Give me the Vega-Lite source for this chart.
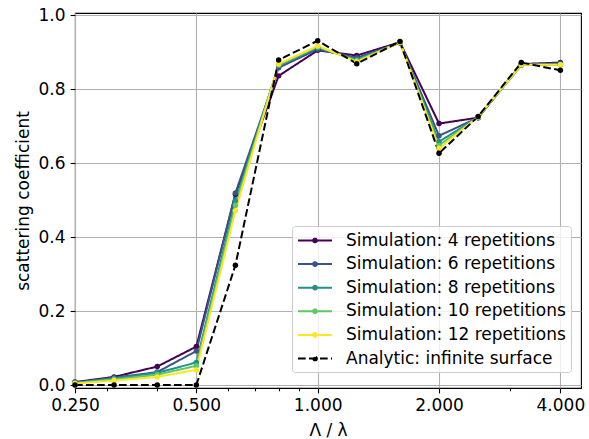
{
  "$schema": "https://vega.github.io/schema/vega-lite/v6.json",
  "width": 506,
  "height": 375,
  "autosize": {"type": "none"},
  "padding": {"left": 75, "top": 13, "right": 8, "bottom": 51},
  "background": "white",
  "data": {
    "values": [
      {"x": 0.25, "y": 0.008, "s": "Simulation: 4 repetitions"},
      {"x": 0.3125, "y": 0.022, "s": "Simulation: 4 repetitions"},
      {"x": 0.4, "y": 0.050, "s": "Simulation: 4 repetitions"},
      {"x": 0.5, "y": 0.104, "s": "Simulation: 4 repetitions"},
      {"x": 0.625, "y": 0.516, "s": "Simulation: 4 repetitions"},
      {"x": 0.8, "y": 0.836, "s": "Simulation: 4 repetitions"},
      {"x": 1.0, "y": 0.905, "s": "Simulation: 4 repetitions"},
      {"x": 1.25, "y": 0.891, "s": "Simulation: 4 repetitions"},
      {"x": 1.6, "y": 0.927, "s": "Simulation: 4 repetitions"},
      {"x": 2.0, "y": 0.707, "s": "Simulation: 4 repetitions"},
      {"x": 2.5, "y": 0.723, "s": "Simulation: 4 repetitions"},
      {"x": 3.2, "y": 0.868, "s": "Simulation: 4 repetitions"},
      {"x": 4.0, "y": 0.872, "s": "Simulation: 4 repetitions"},

      {"x": 0.25, "y": 0.006, "s": "Simulation: 6 repetitions"},
      {"x": 0.3125, "y": 0.020, "s": "Simulation: 6 repetitions"},
      {"x": 0.4, "y": 0.035, "s": "Simulation: 6 repetitions"},
      {"x": 0.5, "y": 0.092, "s": "Simulation: 6 repetitions"},
      {"x": 0.625, "y": 0.519, "s": "Simulation: 6 repetitions"},
      {"x": 0.8, "y": 0.858, "s": "Simulation: 6 repetitions"},
      {"x": 1.0, "y": 0.908, "s": "Simulation: 6 repetitions"},
      {"x": 1.25, "y": 0.885, "s": "Simulation: 6 repetitions"},
      {"x": 1.6, "y": 0.925, "s": "Simulation: 6 repetitions"},
      {"x": 2.0, "y": 0.674, "s": "Simulation: 6 repetitions"},
      {"x": 2.5, "y": 0.723, "s": "Simulation: 6 repetitions"},
      {"x": 3.2, "y": 0.866, "s": "Simulation: 6 repetitions"},
      {"x": 4.0, "y": 0.870, "s": "Simulation: 6 repetitions"},

      {"x": 0.25, "y": 0.006, "s": "Simulation: 8 repetitions"},
      {"x": 0.3125, "y": 0.018, "s": "Simulation: 8 repetitions"},
      {"x": 0.4, "y": 0.033, "s": "Simulation: 8 repetitions"},
      {"x": 0.5, "y": 0.061, "s": "Simulation: 8 repetitions"},
      {"x": 0.625, "y": 0.498, "s": "Simulation: 8 repetitions"},
      {"x": 0.8, "y": 0.864, "s": "Simulation: 8 repetitions"},
      {"x": 1.0, "y": 0.912, "s": "Simulation: 8 repetitions"},
      {"x": 1.25, "y": 0.880, "s": "Simulation: 8 repetitions"},
      {"x": 1.6, "y": 0.926, "s": "Simulation: 8 repetitions"},
      {"x": 2.0, "y": 0.658, "s": "Simulation: 8 repetitions"},
      {"x": 2.5, "y": 0.724, "s": "Simulation: 8 repetitions"},
      {"x": 3.2, "y": 0.865, "s": "Simulation: 8 repetitions"},
      {"x": 4.0, "y": 0.866, "s": "Simulation: 8 repetitions"},

      {"x": 0.25, "y": 0.005, "s": "Simulation: 10 repetitions"},
      {"x": 0.3125, "y": 0.015, "s": "Simulation: 10 repetitions"},
      {"x": 0.4, "y": 0.028, "s": "Simulation: 10 repetitions"},
      {"x": 0.5, "y": 0.052, "s": "Simulation: 10 repetitions"},
      {"x": 0.625, "y": 0.486, "s": "Simulation: 10 repetitions"},
      {"x": 0.8, "y": 0.866, "s": "Simulation: 10 repetitions"},
      {"x": 1.0, "y": 0.915, "s": "Simulation: 10 repetitions"},
      {"x": 1.25, "y": 0.877, "s": "Simulation: 10 repetitions"},
      {"x": 1.6, "y": 0.926, "s": "Simulation: 10 repetitions"},
      {"x": 2.0, "y": 0.648, "s": "Simulation: 10 repetitions"},
      {"x": 2.5, "y": 0.725, "s": "Simulation: 10 repetitions"},
      {"x": 3.2, "y": 0.866, "s": "Simulation: 10 repetitions"},
      {"x": 4.0, "y": 0.866, "s": "Simulation: 10 repetitions"},

      {"x": 0.25, "y": 0.004, "s": "Simulation: 12 repetitions"},
      {"x": 0.3125, "y": 0.012, "s": "Simulation: 12 repetitions"},
      {"x": 0.4, "y": 0.022, "s": "Simulation: 12 repetitions"},
      {"x": 0.5, "y": 0.041, "s": "Simulation: 12 repetitions"},
      {"x": 0.625, "y": 0.471, "s": "Simulation: 12 repetitions"},
      {"x": 0.8, "y": 0.868, "s": "Simulation: 12 repetitions"},
      {"x": 1.0, "y": 0.917, "s": "Simulation: 12 repetitions"},
      {"x": 1.25, "y": 0.874, "s": "Simulation: 12 repetitions"},
      {"x": 1.6, "y": 0.927, "s": "Simulation: 12 repetitions"},
      {"x": 2.0, "y": 0.640, "s": "Simulation: 12 repetitions"},
      {"x": 2.5, "y": 0.725, "s": "Simulation: 12 repetitions"},
      {"x": 3.2, "y": 0.866, "s": "Simulation: 12 repetitions"},
      {"x": 4.0, "y": 0.866, "s": "Simulation: 12 repetitions"},

      {"x": 0.25, "y": 0.0, "s": "Analytic: infinite surface"},
      {"x": 0.3125, "y": 0.0, "s": "Analytic: infinite surface"},
      {"x": 0.4, "y": 0.0, "s": "Analytic: infinite surface"},
      {"x": 0.5, "y": 0.0, "s": "Analytic: infinite surface"},
      {"x": 0.625, "y": 0.324, "s": "Analytic: infinite surface"},
      {"x": 0.8, "y": 0.879, "s": "Analytic: infinite surface"},
      {"x": 1.0, "y": 0.931, "s": "Analytic: infinite surface"},
      {"x": 1.25, "y": 0.869, "s": "Analytic: infinite surface"},
      {"x": 1.6, "y": 0.929, "s": "Analytic: infinite surface"},
      {"x": 2.0, "y": 0.627, "s": "Analytic: infinite surface"},
      {"x": 2.5, "y": 0.726, "s": "Analytic: infinite surface"},
      {"x": 3.2, "y": 0.872, "s": "Analytic: infinite surface"},
      {"x": 4.0, "y": 0.851, "s": "Analytic: infinite surface"}
    ]
  },
  "mark": {"type": "line", "strokeWidth": 2, "point": {"filled": true, "size": 30, "opacity": 1}},
  "encoding": {
    "x": {
      "field": "x", "type": "quantitative",
      "scale": {"type": "log", "domain": [0.25, 4.5], "nice": false},
      "axis": {
        "title": "Λ / λ",
        "values": [0.25, 0.3, 0.4, 0.5, 0.6, 0.7, 0.8, 0.9, 1, 2, 3, 4],
        "labelExpr": "indexof([0.25, 0.5, 1, 2, 4], datum.value) >= 0 ? format(datum.value, '.3f') : ''",
        "tickSize": {"condition": {"test": "indexof([0.25, 0.5, 1, 2, 4], datum.value) >= 0", "value": 4.9}, "value": 2.8},
        "gridOpacity": {"condition": {"test": "indexof([0.25, 0.5, 1, 2, 4], datum.value) >= 0", "value": 1}, "value": 0},
        "labelOverlap": false,
        "labelFlush": false,
        "labelPadding": 5,
        "titlePadding": 9
      }
    },
    "y": {
      "field": "y", "type": "quantitative",
      "scale": {"domain": [-0.008, 1.006], "nice": false, "zero": false},
      "axis": {
        "title": "scattering coefficient",
        "values": [0, 0.2, 0.4, 0.6, 0.8, 1.0],
        "format": ".1f",
        "labelPadding": 5,
        "titlePadding": 6
      }
    },
    "color": {
      "field": "s", "type": "nominal",
      "scale": {
        "domain": ["Simulation: 4 repetitions", "Simulation: 6 repetitions", "Simulation: 8 repetitions", "Simulation: 10 repetitions", "Simulation: 12 repetitions", "Analytic: infinite surface"],
        "range": ["#440154", "#3b528b", "#21918c", "#5ec962", "#fde725", "#000000"]
      },
      "legend": {"title": null}
    },
    "strokeDash": {
      "field": "s", "type": "nominal",
      "scale": {
        "domain": ["Simulation: 4 repetitions", "Simulation: 6 repetitions", "Simulation: 8 repetitions", "Simulation: 10 repetitions", "Simulation: 12 repetitions", "Analytic: infinite surface"],
        "range": [[1, 0], [1, 0], [1, 0], [1, 0], [1, 0], [7.7, 3.3]]
      },
      "legend": {"title": null}
    }
  },
  "config": {
    "font": "DejaVu Sans",
    "view": {"stroke": "black", "strokeWidth": 1.1},
    "axis": {
      "domain": false,
      "grid": true,
      "gridColor": "#b0b0b0",
      "gridWidth": 1.1,
      "tickColor": "black",
      "tickWidth": 1.1,
      "tickSize": 4.9,
      "labelFont": "DejaVu Sans",
      "labelFontSize": 17,
      "labelColor": "black",
      "titleFont": "DejaVu Sans",
      "titleFontSize": 17,
      "titleFontWeight": "normal",
      "titleColor": "black"
    },
    "legend": {
      "orient": "none",
      "legendX": 217,
      "legendY": 213,
      "padding": 5,
      "rowPadding": 5.6,
      "labelFont": "DejaVu Sans",
      "labelFontSize": 17,
      "labelColor": "black",
      "labelLimit": 0,
      "symbolType": "M-1,0H3M0.78,0a0.22,0.22 0 1,0 0.44,0a0.22,0.22 0 1,0 -0.44,0",
      "symbolSize": 289,
      "symbolStrokeWidth": 2,
      "labelOffset": 30,
      "fillColor": "rgba(255,255,255,0.8)",
      "strokeColor": "#cccccc",
      "cornerRadius": 3
    }
  }
}
